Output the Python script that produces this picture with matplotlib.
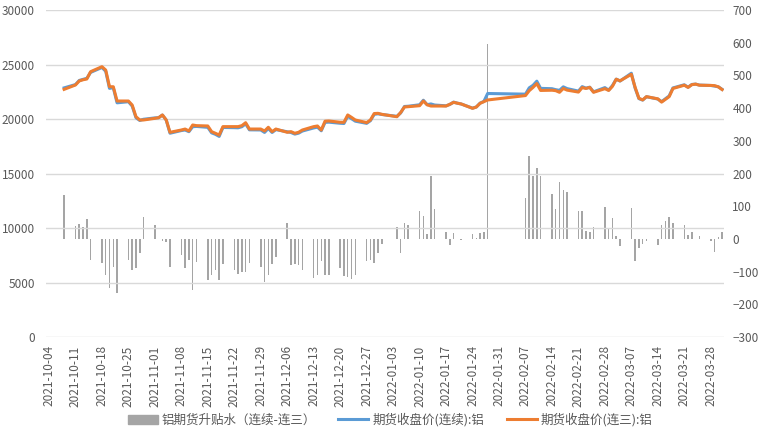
import matplotlib
matplotlib.use("Agg")
import matplotlib.pyplot as plt
import matplotlib.dates as mdates
from matplotlib.patches import Patch
from matplotlib.lines import Line2D
import pandas as pd

plt.rcParams['font.family'] = ['Noto Sans CJK SC', 'DejaVu Sans']

# trading days (SHFE), Oct 2021 - Mar 2022
trade_days = [
    "2021-10-08",
    "2021-10-11", "2021-10-12", "2021-10-13", "2021-10-14", "2021-10-15",
    "2021-10-18", "2021-10-19", "2021-10-20", "2021-10-21", "2021-10-22",
    "2021-10-25", "2021-10-26", "2021-10-27", "2021-10-28", "2021-10-29",
    "2021-11-01", "2021-11-02", "2021-11-03", "2021-11-04", "2021-11-05",
    "2021-11-08", "2021-11-09", "2021-11-10", "2021-11-11", "2021-11-12",
    "2021-11-15", "2021-11-16", "2021-11-17", "2021-11-18", "2021-11-19",
    "2021-11-22", "2021-11-23", "2021-11-24", "2021-11-25", "2021-11-26",
    "2021-11-29", "2021-11-30", "2021-12-01", "2021-12-02", "2021-12-03",
    "2021-12-06", "2021-12-07", "2021-12-08", "2021-12-09", "2021-12-10",
    "2021-12-13", "2021-12-14", "2021-12-15", "2021-12-16", "2021-12-17",
    "2021-12-20", "2021-12-21", "2021-12-22", "2021-12-23", "2021-12-24",
    "2021-12-27", "2021-12-28", "2021-12-29", "2021-12-30", "2021-12-31",
    "2022-01-04", "2022-01-05", "2022-01-06", "2022-01-07",
    "2022-01-10", "2022-01-11", "2022-01-12", "2022-01-13", "2022-01-14",
    "2022-01-17", "2022-01-18", "2022-01-19", "2022-01-20", "2022-01-21",
    "2022-01-24", "2022-01-25", "2022-01-26", "2022-01-27", "2022-01-28",
    "2022-02-07", "2022-02-08", "2022-02-09", "2022-02-10", "2022-02-11",
    "2022-02-14", "2022-02-15", "2022-02-16", "2022-02-17", "2022-02-18",
    "2022-02-21", "2022-02-22", "2022-02-23", "2022-02-24", "2022-02-25",
    "2022-02-28", "2022-03-01", "2022-03-02", "2022-03-03", "2022-03-04",
    "2022-03-07", "2022-03-08", "2022-03-09", "2022-03-10", "2022-03-11",
    "2022-03-14", "2022-03-15", "2022-03-16", "2022-03-17", "2022-03-18",
    "2022-03-21", "2022-03-22", "2022-03-23", "2022-03-24", "2022-03-25",
    "2022-03-28", "2022-03-29", "2022-03-30", "2022-03-31",
]

# 期货收盘价(连续):铝
price_cont = [
    22855, 23158, 23536, 23636, 23730, 24276, 24726, 24380, 22809, 22875,
    21484, 21586, 21185, 20120, 19866, 19976,
    20101, 20120, 20364, 19902, 18695, 18941, 18990, 18836, 19294, 19318,
    19235, 18730, 18595, 18403, 19224, 19205, 19192, 19290, 19558, 19006,
    18995, 18768,
    19130, 18764, 19026, 18828, 18760, 18614, 18700, 18895, 19180, 19250,
    18921, 19690, 19710, 19610, 19587, 20253, 20027, 19800, 19601, 19846,
    20426, 20476, 20415,
    20245, 20556, 21150, 21171, 21306, 21720, 21314, 21381, 21281, 21210,
    21332, 21549, 21450, 21378, 20994, 21102, 21457, 21612, 22340,
    22280, 22860, 23090, 23470, 22810, 22780, 22690, 22630, 22950, 22790,
    22560, 22970, 22830, 22920, 22490, 22880,
    22650, 23070, 23660, 23480, 24200, 22830, 21870, 21735, 22044, 21832,
    21591, 21855, 22116, 22850, 23140, 22910, 23170, 23200, 23110, 23075,
    23020, 22955, 22720,
]

# 期货收盘价(连三):铝
price_third = [
    22720, 23120, 23490, 23600, 23670, 24340, 24800, 24490, 22960, 22960,
    21650, 21650, 21280, 20210, 19910, 19910,
    20060, 20120, 20370, 19910, 18780, 18990, 19080, 18900, 19450, 19390,
    19360, 18840, 18690, 18530, 19300, 19300, 19300, 19390, 19660, 19080,
    19080, 18900,
    19240, 18840, 19080, 18780, 18840, 18690, 18780, 18990, 19300, 19360,
    18990, 19800, 19820, 19700, 19700, 20370, 20150, 19910, 19670, 19910,
    20500, 20520, 20430,
    20210, 20600, 21100, 21130, 21220, 21650, 21300, 21190, 21190, 21190,
    21350, 21530, 21450, 21380, 20980, 21100, 21440, 21590, 21745,
    22150, 22600, 22900, 23250, 22620, 22640, 22600, 22450, 22800, 22650,
    22470, 22880, 22800, 22900, 22450, 22780,
    22620, 23000, 23650, 23500, 24100, 22900, 21900, 21750, 22050, 21850,
    21550, 21800, 22050, 22800, 23100, 22900, 23150, 23200, 23100, 23080,
    23060, 22950, 22700,
]

# 铝期货升贴水（连续-连三）
spread = [
    135, 38, 46, 36, 60, -64, -74, -110, -151, -85, -166, -64, -95, -90, -44, 66,
    41, 0, -6, -8, -85, -49, -90, -64, -156, -72, -125, -110, -95, -127, -76,
    -95, -108, -100, -102, -74, -85, -132,
    -110, -76, -54, 48, -80, -76, -80, -95, -120, -110, -69, -110, -110, -90,
    -113, -117, -123, -110, -69, -64, -74, -44, -15,
    35, -44, 50, 41, 86, 70, 14, 191, 91, 20, -18, 19, 0, -2, 14, 2, 17, 22, 595,
    126, 255, 191, 216, 191, 137, 91, 175, 150, 142, 86, 86, 25, 20, 35, 99,
    31, 65, 10, -23, 96, -69, -29, -15, -6, -18, 41, 55, 66, 50, 41, 12, 20, 0,
    9, -6, -39, 7, 20,
]

labels = ["铝期货升贴水（连续-连三）", "期货收盘价(连续):铝", "期货收盘价(连三):铝"]

dates = pd.to_datetime(trade_days)
tick_dates = pd.date_range("2021-10-04", "2022-03-28", freq="7D")

c_bar = "#A5A5A5"
c_blue = "#5B9BD5"
c_orange = "#ED7D31"
c_text = "#595959"

fig = plt.figure(figsize=(7.62, 4.29), dpi=100)
ax = fig.add_axes([46 / 762, 1 - 337 / 429, (724 - 46) / 762, 327 / 429])
ax2 = ax.twinx()

ax2.bar(dates, spread, width=0.4, color=c_bar, zorder=2)
ax.plot(dates, price_cont, color=c_blue, lw=2.2, zorder=3)
ax.plot(dates, price_third, color=c_orange, lw=2.2, zorder=4)

ax.set_zorder(ax2.get_zorder() + 1)
ax.patch.set_visible(False)

ax.set_ylim(0, 30000)
ax.set_yticks(range(0, 30001, 5000))
ax2.set_ylim(-300, 700)
ax2.set_yticks(range(-300, 701, 100))
ax.set_xlim(pd.Timestamp("2021-10-03 05:00"), pd.Timestamp("2022-03-31 12:00"))
ax.set_xticks(tick_dates)
ax.xaxis.set_major_formatter(mdates.DateFormatter("%Y-%m-%d"))
plt.setp(ax.get_xticklabels(), rotation=90)

ax.grid(axis="y", color="#D9D9D9", lw=1)
ax.set_axisbelow(True)
for a in (ax, ax2):
    for s in a.spines.values():
        s.set_visible(False)
    a.tick_params(length=0, labelsize=8.5, labelcolor=c_text)
ax.tick_params(axis="x", pad=6)
ax.tick_params(axis="y", pad=8)
ax2.tick_params(axis="y", pad=6)

handles = [Patch(color=c_bar), Line2D([], [], color=c_blue, lw=2.2),
           Line2D([], [], color=c_orange, lw=2.2)]
fig.legend(handles, labels, loc="center", bbox_to_anchor=(390 / 762, 1 - 420 / 429),
           ncol=3, frameon=False, fontsize=9, labelcolor=c_text,
           handlelength=2.4, handletextpad=0.3, columnspacing=1.8)

fig.savefig("out.png", dpi=100)
